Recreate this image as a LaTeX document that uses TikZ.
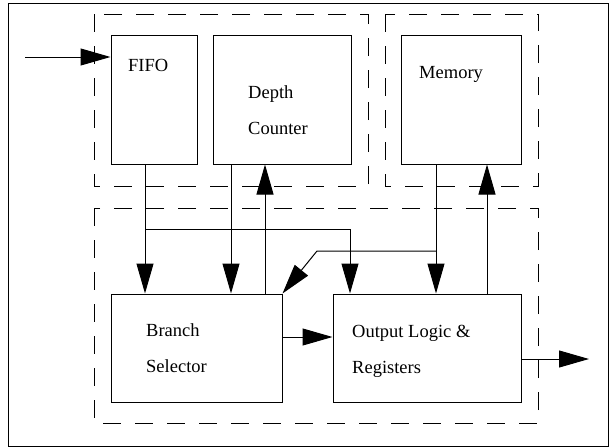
\documentclass[tikz,border=0pt]{standalone}
\usepackage{fontspec}
\setmainfont{Liberation Serif}
\usetikzlibrary{arrows.meta}
\begin{document}
\begin{tikzpicture}[x=1pt,y=-1pt,
  block/.style={draw,line width=1pt,inner sep=0pt,rectangle},
  lbl/.style={anchor=base west,inner sep=0pt,font=\fontsize{18.5}{22}\selectfont},
  group/.style={draw,line width=1pt,dash pattern=on 18pt off 14pt},
  wire/.style={line width=1pt},
  arr/.style={wire,-{Triangle[length=30pt,width=17pt]}}]
\useasboundingbox (0,0) rectangle (616,447);
% outer frame
\draw[line width=1pt] (8,3) rectangle (608,446);
% dashed groupings
\draw[group] (94,14) rectangle (368,186);
\draw[group] (385,14) rectangle (538,186);
\draw[group] (94,208) rectangle (538,423);
% blocks
\node[block,minimum width=86pt,minimum height=129pt] (fifo) at (154,99.5) {};
\node[block,minimum width=138pt,minimum height=129pt] (depth) at (282,99.5) {};
\node[block,minimum width=120pt,minimum height=129pt] (mem) at (461,99.5) {};
\node[block,minimum width=171pt,minimum height=108pt] (branch) at (196.5,348) {};
\node[block,minimum width=188pt,minimum height=108pt] (out) at (427,348) {};
% labels
\node[lbl] (tfifo) at (128,71) {FIFO};
\node[lbl] (tdepth1) at (248,98) {Depth};
\node[lbl] (tdepth2) at (248,134) {Counter};
\node[lbl] (tmem) at (419,78) {Memory};
\node[lbl] (tbr1) at (146,336) {Branch};
\node[lbl] (tbr2) at (146,372) {Selector};
\node[lbl] (tout1) at (352,337) {Output Logic \&};
\node[lbl] (tout2) at (352,373) {Registers};
% free ends and junctions
\coordinate (in) at (25,57);
\coordinate (outend) at (589,359);
\coordinate (j1) at (145,229);
\coordinate (j2) at (436,251);
\coordinate (bend) at (317,251);
% connectors
\draw[arr] (in) -- (fifo.west |- in);
\draw[arr] ([xshift=-9pt]fifo.south) -- ([xshift=-9pt]fifo.south |- branch.north);
\draw[arr] (j1) -| ([xshift=-77pt]out.north);
\draw[arr] ([xshift=-51pt]depth.south) -- ([xshift=-51pt]depth.south |- branch.north);
\draw[arr] ([xshift=68.5pt]branch.north) -- ([xshift=68.5pt]branch.north |- depth.south);
\draw[arr] ([xshift=-25pt]mem.south) -- ([xshift=-25pt]mem.south |- out.north);
\draw[arr] (j2) -- (bend) -- (branch.north east);
\draw[arr] ([xshift=60pt]out.north) -- ([xshift=60pt]out.north |- mem.south);
\draw[arr] ([yshift=11pt]branch.east) -- ([yshift=11pt]branch.east -| out.west);
\draw[arr] (out.east |- outend) -- (outend);
\end{tikzpicture}
\end{document}
